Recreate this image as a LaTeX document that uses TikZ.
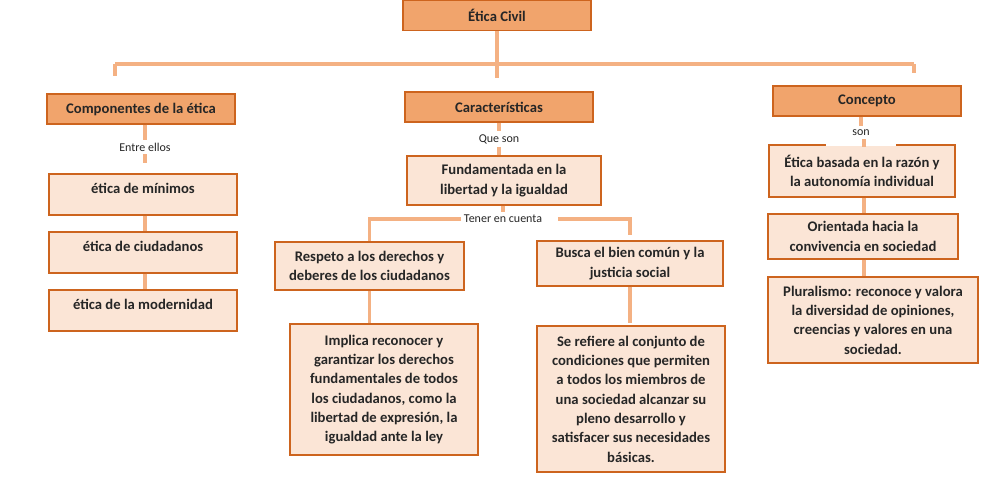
\documentclass[tikz,border=0pt]{standalone}
\usepackage{fontspec}
\setmainfont{Carlito}
\definecolor{headfill}{RGB}{241,164,108}
\definecolor{boxfill}{RGB}{251,229,214}
\definecolor{boxline}{RGB}{205,100,30}
\definecolor{linkcol}{RGB}{244,177,131}
\definecolor{txt}{RGB}{38,38,38}
\begin{document}
\begin{tikzpicture}[x=0.75pt,y=-0.75pt,
    head/.style={draw=boxline, line width=1pt, fill=headfill, text=txt, font=\bfseries\fontsize{11pt}{14.5pt}\selectfont, minimum width=141pt, minimum height=22.5pt, align=center},
    card/.style={draw=boxline, line width=1pt, fill=boxfill, text=txt, font=\bfseries\fontsize{11pt}{14.5pt}\selectfont, align=center},
    topcard/.style={card, inner ysep=0pt, text height=14.25pt, text depth=16.5pt, minimum width=141pt, minimum height=30.75pt},
    tag/.style={fill=white, text=txt, font=\fontsize{9pt}{10.5pt}\selectfont, inner sep=2pt},
    link/.style={draw=linkcol, line width=2.6pt}]
\useasboundingbox (0,0) rectangle (990,476);

\node[head] (ttl) at (497,15.5) {Ética Civil};
\node[head] (comp) at (141,109) {Componentes de la ética};
\node[head] (car) at (499,107) {Características};
\node[head] (conc) at (867,101) {Concepto};

\node[topcard] (min) at (143,194.5) {ética de mínimos};
\node[topcard] (ciud) at (143,252.5) {ética de ciudadanos};
\node[topcard] (mod) at (143,310.5) {ética de la modernidad};

\node[card, minimum width=145.5pt, minimum height=36.75pt] (fund) at (504,180.5) {Fundamentada en la\\libertad y la igualdad};
\node[card, minimum width=141.75pt, minimum height=36pt] (resp) at (369.5,266) {Respeto a los derechos y\\deberes de los ciudadanos};
\node[card, minimum width=141pt, minimum height=98.25pt] (impl) at (384,389.5) {Implica reconocer y\\garantizar los derechos\\fundamentales de todos\\los ciudadanos, como la\\libertad de expresión, la\\igualdad ante la ley};
\node[card, minimum width=139.5pt, minimum height=33.75pt] (busca) at (630,263.5) {Busca el bien común y la\\justicia social};
\node[card, minimum width=141pt, minimum height=109.5pt] (ref) at (631,399) {Se refiere al conjunto de\\condiciones que permiten\\a todos los miembros de\\una sociedad alcanzar su\\pleno desarrollo y\\satisfacer sus necesidades\\básicas.};

\node[card, minimum width=139.5pt, minimum height=39pt] (basada) at (862,171) {Ética basada en la razón y\\la autonomía individual};
\node[card, minimum width=142.5pt, minimum height=33.75pt] (orient) at (863,236.5) {Orientada hacia la\\convivencia en sociedad};
\node[card, minimum width=157.5pt, minimum height=64.5pt] (plural) at (873,320) {Pluralismo: reconoce y valora\\la diversidad de opiniones,\\creencias y valores en una\\sociedad.};

\node[tag] (entre) at (145,147) {Entre ellos};
\node[tag] (queson) at (499,139) {Que son};
\node[tag] (tener) at (503,219) {Tener en cuenta};
\node[tag, inner ysep=0pt, text height=6.75pt, text depth=8.25pt, minimum width=53pt] (son) at (861,136) {son};

\coordinate (barL) at (115,64);
\coordinate (barR) at (914,64);
\coordinate (sonfoot) at (864,139);

\draw[link, shorten >=9.75pt] (ttl.south) -- (ttl.south |- car.north);
\draw[link] (barL) -- (barR);
\draw[link, shorten >=12.75pt] (barL) -- (barL |- comp.north);
\draw[link, shorten >=9pt] (barR) -- (barR |- conc.north);

\draw[link] (comp.south -| entre) -- (entre.north);
\draw[link, shorten >=7.5pt] (entre.south) -- (entre.south |- min.north);
\draw[link] (min.south -| entre) -- (entre |- ciud.north);
\draw[link] (ciud.south -| entre) -- (entre |- mod.north);

\draw[link] (car.south -| queson) -- (queson.north);
\draw[link] (queson.south) -- (queson.south |- fund.north);
\draw[link] (fund.south -| tener) -- (tener.north);
\draw[link] (tener.west) -| (resp.north);
\draw[link, shorten <=9.75pt, shorten >=3.75pt] (tener.east) -| (busca.north);
\draw[link] (resp.south) -- (resp.south |- impl.north);
\draw[link, shorten >=2pt] (busca.south) -- (busca.south |- ref.north);

\draw[link] (conc.south -| son) -- (son.north);
\draw[link, shorten >=-2.25pt] (sonfoot) -- (sonfoot |- basada.north);
\draw[link] (basada.south -| sonfoot) -- (sonfoot |- orient.north);
\draw[link] (orient.south -| sonfoot) -- (sonfoot |- plural.north);
\end{tikzpicture}
\end{document}
